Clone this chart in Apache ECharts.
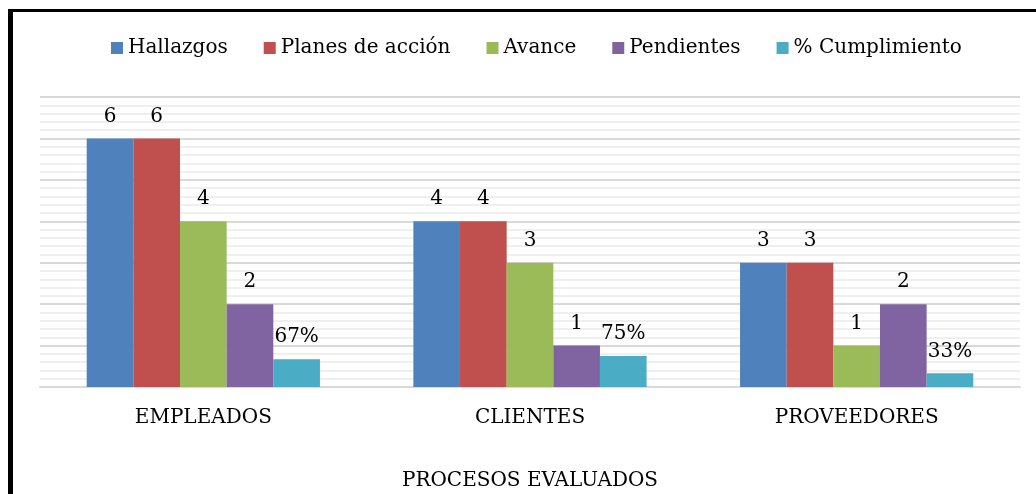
<!DOCTYPE html>
<html>
<head>
<meta charset="utf-8">
<script src="https://cdn.jsdelivr.net/npm/echarts@6/dist/echarts.min.js"></script>
<style>
  html, body { margin: 0; padding: 0; background: #fff; }
  #chart { width: 1036px; height: 494px; }
</style>
</head>
<body>
<div id="chart"></div>
<script>
var categories = ['EMPLEADOS', 'CLIENTES', 'PROVEEDORES'];
var hallazgos = [6, 4, 3];
var planes = [6, 4, 3];
var avance = [4, 3, 1];
var pendientes = [2, 1, 2];
var cumplimiento = [0.67, 0.75, 0.33];

var FONT = 'DejaVu Serif';

var chart = echarts.init(document.getElementById('chart'));

function countLabel() {
  return { show: true, position: 'top', distance: 12, fontFamily: FONT, fontSize: 20, color: '#000' };
}

function bar(name, data, color, label) {
  return {
    name: name,
    type: 'bar',
    data: data,
    barGap: '0%',
    barCategoryGap: '28.6%',
    itemStyle: { color: color },
    label: label || countLabel()
  };
}

chart.setOption({
  backgroundColor: '#fff',
  animation: false,
  textStyle: { fontFamily: FONT },
  legend: {
    top: 33,
    left: 106,
    itemWidth: 12,
    itemHeight: 12,
    itemGap: 36,
    icon: 'rect',
    textStyle: { fontFamily: FONT, fontSize: 20, color: '#000' }
  },
  grid: { left: 40, right: 16, top: 97, bottom: 107, outerBoundsMode: 'none' },
  xAxis: {
    type: 'category',
    data: categories,
    name: 'PROCESOS EVALUADOS',
    nameLocation: 'middle',
    nameGap: 84,
    nameTextStyle: { fontFamily: FONT, fontSize: 20, color: '#000' },
    axisLine: { lineStyle: { color: '#d9d9d9', width: 2 } },
    axisTick: { show: false },
    axisLabel: { fontFamily: FONT, fontSize: 20, color: '#000', margin: 21 }
  },
  yAxis: {
    type: 'value',
    min: 0,
    max: 7,
    interval: 1,
    axisLabel: { show: false },
    axisLine: { show: false },
    axisTick: { show: false },
    splitLine: { lineStyle: { color: '#d9d9d9', width: 2 } },
    minorTick: { show: false, splitNumber: 5 },
    minorSplitLine: { show: true, lineStyle: { color: '#efefef', width: 2 } }
  },
  graphic: [
    { type: 'rect', shape: { x: 8, y: 9, width: 5, height: 485 }, style: { fill: '#000' } },
    { type: 'rect', shape: { x: 8, y: 9, width: 1028, height: 3 }, style: { fill: '#000' } }
  ],
  series: [
    bar('Hallazgos', hallazgos, '#4F81BD'),
    bar('Planes de acción', planes, '#C0504D'),
    bar('Avance', avance, '#9BBB59'),
    bar('Pendientes', pendientes, '#8064A2'),
    bar('% Cumplimiento', cumplimiento, '#4BACC6', {
      show: true, position: 'top', distance: 12, fontFamily: FONT, fontSize: 20, color: '#000',
      formatter: function (p) { return Math.round(p.value * 100) + '%'; }
    })
  ]
});
</script>
</body>
</html>
